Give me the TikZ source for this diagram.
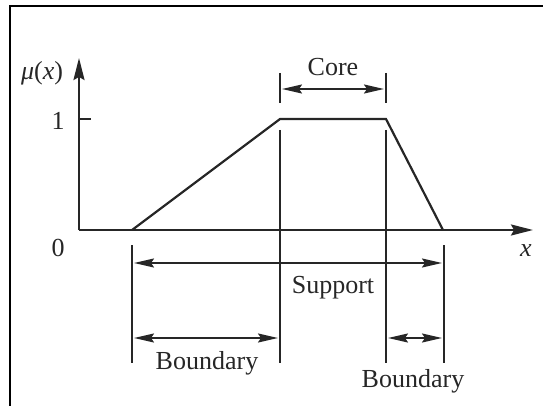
\documentclass[tikz,border=0pt]{standalone}
\usepackage{fontspec}
\setmainfont{Liberation Serif}
\usetikzlibrary{arrows.meta}
\begin{document}
\begin{tikzpicture}[x=1pt,y=-1pt,
  ln/.style={line width=2.2pt,black!85},
  tip/.tip={Stealth[length=20pt,width=9pt,inset=3pt]},
  dim/.style={line width=2pt,black!85,tip-tip},
  lbl/.style={font=\fontsize{26}{28}\selectfont,inner sep=0pt,text=black!85}]
\useasboundingbox (0,0) rectangle (543,406);
% frame
\draw[line width=1.8pt] (10,406) -- (10,6) -- (543,6);
% axes
\coordinate (O) at (79,230);
\coordinate (ytop) at (79,58);
\coordinate (xend) at (533,230);
\draw[ln,-{Stealth[length=22pt,width=11pt,inset=3pt]}] (O) -- (ytop);
\draw[ln,-{Stealth[length=22pt,width=11pt,inset=3pt]}] (O) -- (xend);
\coordinate (t1) at (79,119);
\coordinate (t1e) at (91,119);
\draw[ln] (t1) -- (t1e);
% trapezoid
\coordinate (A) at (132,230);
\coordinate (B) at (280,119);
\coordinate (C) at (386,119);
\coordinate (D) at (443,230);
\draw[ln,line join=miter] (A) -- (B) -- (C) -- (D);
% vertical guide lines
\coordinate (v1a) at (132,245); \coordinate (v1b) at (132,363);
\coordinate (v2a) at (280,130); \coordinate (v2b) at (280,363);
\coordinate (v3a) at (386,130); \coordinate (v3b) at (386,363);
\coordinate (v4a) at (444,245); \coordinate (v4b) at (444,363);
\draw[ln] (v1a) -- (v1b);
\draw[ln] (v2a) -- (v2b);
\draw[ln] (v3a) -- (v3b);
\draw[ln] (v4a) -- (v4b);
\coordinate (c1a) at (280,73); \coordinate (c1b) at (280,103);
\coordinate (c2a) at (386,73); \coordinate (c2b) at (386,103);
\draw[ln] (c1a) -- (c1b);
\draw[ln] (c2a) -- (c2b);
% dimension arrows
\coordinate (coreL) at (282,89); \coordinate (coreR) at (384,89);
\draw[dim] (coreL) -- (coreR);
\coordinate (supL) at (134,263); \coordinate (supR) at (442,263);
\draw[dim] (supL) -- (supR);
\coordinate (bLL) at (134,338); \coordinate (bLR) at (278,338);
\draw[dim] (bLL) -- (bLR);
\coordinate (bRL) at (388,338); \coordinate (bRR) at (442,338);
\draw[dim] (bRL) -- (bRR);
% labels
\node[lbl] (mu) at (42,73) {\itshape μ\upshape(\itshape x\upshape)};
\node[lbl] (one) at (58,121) {1};
\node[lbl] (zero) at (58,248) {0};
\node[lbl] (xl) at (526,251) {\itshape x};
\node[lbl] (core) at (333,67) {Core};
\node[lbl] (sup) at (333,288) {Support};
\node[lbl] (bl) at (207,363) {Boundary};
\node[lbl] (br) at (413,381) {Boundary};
\end{tikzpicture}
\end{document}
